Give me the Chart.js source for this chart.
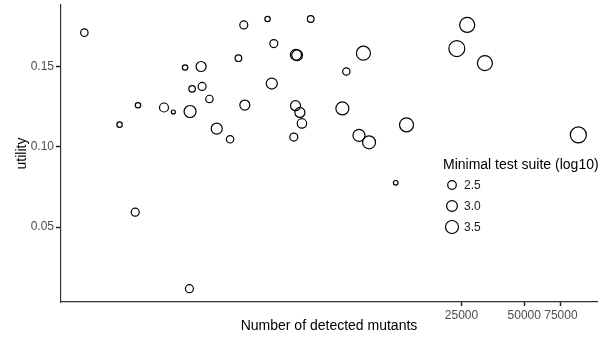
<!DOCTYPE html>
<html>
<head>
<meta charset="utf-8">
<script src="https://cdn.jsdelivr.net/npm/chart.js@4/dist/chart.umd.min.js"></script>
<style>
  html, body { margin: 0; padding: 0; background: #fff; }
  #wrap { width: 605px; height: 337px; position: relative; }
</style>
</head>
<body>
<div id="wrap"><canvas id="c"></canvas></div>
<script>
// number of detected mutants (x, log scale)
const mutants = [387, 571, 700, 679, 933, 1035, 1178, 1245, 1273, 1406,
  1422, 1542, 1236, 1671, 1937, 2124, 2254, 2280, 2931, 3141,
  4009, 4064, 3071, 4721, 3993, 4190, 4285, 3917, 6699, 7000,
  8453, 8050, 8995, 13610, 12080, 26610, 23730, 32360, 90900];
// utility (y)
const utility = [0.1711, 0.1138, 0.1259, 0.0593, 0.1245, 0.1217, 0.1494, 0.1220, 0.1361, 0.1500,
  0.1376, 0.1298, 0.0117, 0.1113, 0.1047, 0.1552, 0.1759, 0.1260, 0.1796, 0.1643,
  0.1573, 0.1570, 0.1394, 0.1796, 0.1256, 0.1214, 0.1146, 0.1061, 0.1239, 0.1469,
  0.1583, 0.1071, 0.1028, 0.1137, 0.0776, 0.1759, 0.1612, 0.1521, 0.1074];
// minimal test suite size, log10
const suite = [2.23, 1.77, 1.77, 2.36, 2.59, 1.45, 1.77, 3.27, 2.05, 2.82,
  2.36, 2.23, 2.36, 3.05, 2.23, 2.05, 2.36, 2.82, 1.77, 2.36,
  3.05, 3.0, 3.05, 2.05, 2.82, 2.82, 2.68, 2.36, 3.5, 2.23,
  3.73, 3.27, 3.5, 3.73, 1.6, 3.95, 4.18, 3.95, 4.18];

const xTicks = [25000, 50000, 75000];
const yTicks = [0.05, 0.10, 0.15];
const sizeBreaks = [2.5, 3.0, 3.5];
const legendTitle = 'Minimal test suite (log10)';

function rad(s) { return 2.2 * s - 1.2; }

const pts = mutants.map((m, i) => ({x: m, y: utility[i]}));

const sizeLegend = {
  id: 'sizeLegend',
  afterDraw(chart) {
    const c = chart.ctx;
    c.save();
    c.fillStyle = '#000';
    c.textBaseline = 'middle';
    c.textAlign = 'left';
    c.font = '14px "Liberation Sans", Arial, sans-serif';
    c.fillText(legendTitle, 443, 165);
    const rows = [185, 206, 227];
    c.font = '12px "Liberation Sans", Arial, sans-serif';
    sizeBreaks.forEach((s, i) => {
      c.beginPath();
      c.arc(452, rows[i], rad(s), 0, Math.PI * 2);
      c.lineWidth = 1.2;
      c.strokeStyle = '#000';
      c.stroke();
      c.fillStyle = '#1a1a1a';
      c.fillText(s.toFixed(1), 464, rows[i] + 0.5);
    });
    c.restore();
  }
};

const fam = '"Liberation Sans", Arial, sans-serif';
const tickFont = {family: fam, size: 12};
const titleFont = {family: fam, size: 14};

new Chart(document.getElementById('c'), {
  type: 'scatter',
  data: {
    datasets: [{
      data: pts,
      borderColor: '#000',
      backgroundColor: 'rgba(0,0,0,0)',
      borderWidth: 1.2,
      pointRadius: ctx => rad(suite[ctx.dataIndex]),
      pointHoverRadius: ctx => rad(suite[ctx.dataIndex])
    }]
  },
  options: {
    responsive: true,
    maintainAspectRatio: false,
    animation: false,
    // no extra room for the big points, ggplot doesn't do that either
    layout: {autoPadding: false, padding: {top: 5, right: 8, left: 0, bottom: 0}},
    plugins: {legend: {display: false}, tooltip: {enabled: false}},
    scales: {
      x: {
        type: 'logarithmic',
        min: 299, max: 111700,
        afterBuildTicks: s => { s.ticks = xTicks.map(v => ({value: v})); },
        afterFit: s => { s.height = 35; s.paddingLeft = 0; s.paddingRight = 0; },
        ticks: {color: '#4d4d4d', font: tickFont, padding: 2, maxRotation: 0, autoSkip: false,
          callback: v => String(v)},
        grid: {display: true, drawOnChartArea: false, drawTicks: true, tickLength: 4, color: '#222', tickColor: '#222', tickWidth: 1.5},
        border: {display: true, color: '#333', width: 1.2},
        title: {display: true, text: 'Number of detected mutants', color: '#000', font: titleFont, padding: {top: 0, bottom: 2}}
      },
      y: {
        min: 0.0034, max: 0.1883,
        afterBuildTicks: s => { s.ticks = yTicks.map(v => ({value: v})); },
        afterFit: s => { s.width = 61; s.paddingTop = 0; s.paddingBottom = 0; },
        ticks: {color: '#4d4d4d', font: tickFont, padding: 2, callback: v => v.toFixed(2)},
        grid: {display: true, drawOnChartArea: false, drawTicks: true, tickLength: 5, color: '#222', tickColor: '#222', tickWidth: 1.5},
        border: {display: true, color: '#333', width: 1.2},
        title: {display: true, text: 'utility', color: '#000', font: titleFont, padding: {top: 14, bottom: 0}}
      }
    }
  },
  plugins: [sizeLegend]
});
</script>
</body>
</html>
